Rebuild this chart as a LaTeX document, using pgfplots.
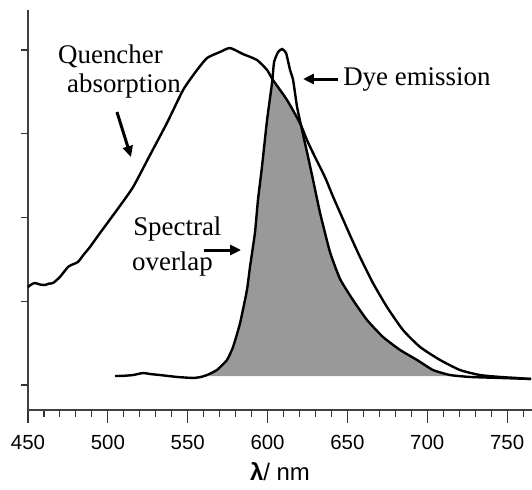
\documentclass[border=0pt]{standalone}
\usepackage{fontspec}
\setmainfont{Liberation Serif}
\setsansfont{Liberation Sans}
\usepackage{pgfplots}
\pgfplotsset{compat=1.18}
\usetikzlibrary{arrows.meta}
\definecolor{overlapgray}{RGB}{153,153,153}

\begin{document}
\begin{tikzpicture}
\begin{axis}[
  name=ax,
  scale only axis,
  width=504bp, height=400bp,
  xmin=450, xmax=765.6,
  ymin=-0.2985, ymax=4.478,
  axis lines=left,
  axis line style={-, line width=1.2bp, black!75},
  clip=false,
  xtick={450,500,...,750},
  minor xtick={460,470,...,760},
  ytick={0,1,2,3,4},
  yticklabels={},
  tick align=outside,
  major tick length=13bp,
  minor tick length=7bp,
  tick style={line width=1.1bp, black!80},
  ytick style={/pgfplots/major tick length=7bp},
  xticklabel style={font=\sffamily\fontsize{20.5}{24}\selectfont, yshift=-9bp},
  /pgf/number format/assume math mode=true,
  xlabel={{\bfseries λ}/ nm},
  xlabel style={font=\sffamily\fontsize{24}{28}\selectfont, yshift=-6bp},
]
% shaded spectral overlap
\addplot[fill=overlapgray, draw=none] coordinates {
  (563,0.107) (568.3,0.179) (574.6,0.299) (578.4,0.454) (582.8,0.740)
  (587.1,1.134) (589.0,1.409) (592.1,1.815) (594.0,2.209) (596.5,2.603)
  (599.7,3.164) (602.8,3.606) (603.1,3.66) (607.5,3.53) (612.2,3.403)
  (616.5,3.27) (620.8,3.11) (621.6,3.045) (624.7,2.782) (628.5,2.448)
  (632.9,2.054) (639.1,1.588) (645.4,1.266) (653.5,1.015) (662.3,0.776)
  (672.3,0.573) (683.0,0.418) (693.6,0.299) (703.6,0.179) (714.3,0.119)
  (718,0.107) (563,0.107)
};
% quencher absorption
\addplot[black, line width=2.4bp, smooth, tension=0.35] coordinates {
  (450.0,1.170) (452.0,1.20) (454.4,1.218) (457.5,1.20) (460.6,1.194)
  (463.0,1.21) (465.7,1.218) (470.0,1.290) (475.0,1.409) (478.0,1.44)
  (481.3,1.469) (485.0,1.56) (488.8,1.648) (495.1,1.815) (505.7,2.090)
  (515.8,2.364) (526.4,2.746) (537.0,3.128) (547.1,3.522) (555.0,3.74)
  (562.1,3.904) (570.2,3.976) (576.5,4.024) (584.6,3.952) (593.4,3.881)
  (599.7,3.761) (603.4,3.642) (612.2,3.403) (620.3,3.128) (624.7,2.925)
  (628.5,2.77) (636.0,2.48) (641.0,2.25) (651.6,1.791) (657.9,1.528)
  (666.0,1.218) (674.8,0.931) (684.8,0.657) (695.5,0.454) (708.0,0.299)
  (720.5,0.179) (733.0,0.119) (745.6,0.096) (755.0,0.085) (765.0,0.072)
};
% dye emission
\addplot[black, line width=2.4bp, smooth, tension=0.3] coordinates {
  (504.5,0.107) (510.0,0.110) (515.8,0.119) (522.0,0.143) (527.0,0.130)
  (532.7,0.119) (543.3,0.096) (553.3,0.084) (558.0,0.095) (562.1,0.119)
  (568.3,0.179) (574.6,0.299) (578.4,0.454) (582.8,0.740) (587.1,1.134)
  (589.0,1.409) (592.1,1.815) (594.0,2.209) (596.5,2.603) (599.7,3.164)
  (602.8,3.606) (604.1,3.857) (606.6,3.976) (609.1,4.012) (611.6,3.964)
  (614.1,3.761) (616.0,3.642) (618.5,3.319) (621.6,3.045) (624.7,2.782)
  (628.5,2.448) (632.9,2.054) (639.1,1.588) (645.4,1.266) (653.5,1.015)
  (662.3,0.776) (672.3,0.573) (683.0,0.418) (693.6,0.299) (703.6,0.179)
  (714.3,0.119) (726.8,0.096) (745.6,0.084) (765.0,0.072)
};
% annotations
\begin{scope}[font=\fontsize{27}{30}\selectfont]
\node[anchor=base west, inner sep=0pt] at (axis cs:468.8,3.845) {Quencher};
\node[anchor=base west, inner sep=0pt] at (axis cs:474.4,3.487) {absorption};
\node[anchor=base west, inner sep=0pt] at (axis cs:647.3,3.582) {Dye emission};
\node[anchor=base west, inner sep=0pt] at (axis cs:515.8,1.791) {Spectral};
\node[anchor=base west, inner sep=0pt] at (axis cs:515.1,1.373) {overlap};
\end{scope}
\begin{scope}[line width=3bp, -{Triangle[length=11bp,width=10bp]}]
\draw (axis cs:505.7,3.260) -- (axis cs:514.5,2.722);
\draw (axis cs:644.1,3.654) -- (axis cs:622.2,3.654);
\draw (axis cs:560.2,1.612) -- (axis cs:583.4,1.612);
\end{scope}
\end{axis}
\pgfresetboundingbox
\path ([shift={(-28bp,-80bp)}]ax.south west) rectangle ([shift={(0bp,10bp)}]ax.north east);
\end{tikzpicture}
\end{document}
